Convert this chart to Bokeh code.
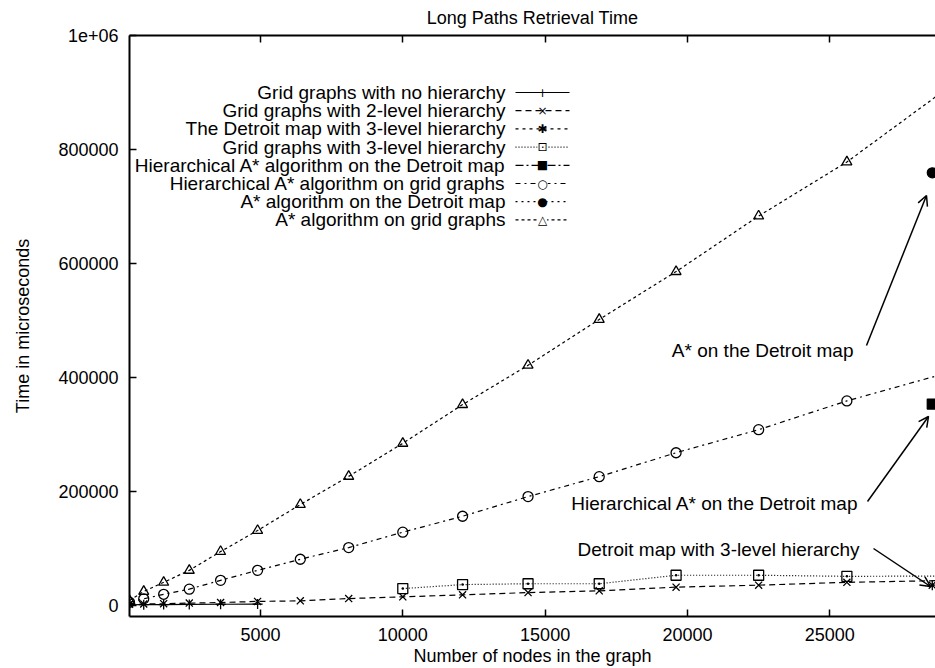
from bokeh.plotting import figure
from bokeh.models import Range1d, LinearAxis, FixedTicker, Label, Arrow, OpenHead
from bokeh.embed import file_html
from bokeh.resources import INLINE

# ---------------- data ----------------
grid_nodes = [400, 900, 1600, 2500, 3600, 4900, 6400, 8100, 10000, 12100,
              14400, 16900, 19600, 22500, 25600, 28900]
no_hier_nodes = [400, 900, 1600, 2500, 3600, 4900]
no_hier_time = [600, 800, 1000, 1200, 1500, 1800]
two_level_time = [1500, 2000, 2500, 3500, 4500, 6500, 7500, 11500, 14500, 18000,
                  22000, 25000, 31500, 35000, 40000, 43000]
three_level_nodes = [10000, 12100, 14400, 16900, 19600, 22500, 25600, 28900]
three_level_time = [29000, 36000, 37500, 37500, 52400, 52400, 50500, 51000]
hier_grid_time = [5000, 11000, 19000, 28000, 43500, 61000, 80500, 101000, 128000,
                  156000, 190500, 225500, 267500, 308000, 358500, 404500]
astar_grid_time = [8000, 24000, 40000, 61000, 94000, 131000, 176500, 226000, 284000,
                   352000, 421000, 501500, 585500, 683000, 778000, 899000]
detroit_nodes = [28600]
detroit_3level_time = [35000]
hier_detroit_time = [353000]
astar_detroit_time = [759000]

x_ticks = [5000, 10000, 15000, 20000, 25000]
y_ticks = [0, 200000, 400000, 600000, 800000, 1000000]
y_tick_labels = ["0", "200000", "400000", "600000", "800000", "1e+06"]

legend_labels = [
    "Grid graphs with no hierarchy",
    "Grid graphs with 2-level hierarchy",
    "The Detroit map with 3-level hierarchy",
    "Grid graphs with 3-level hierarchy",
    "Hierarchical A* algorithm on the Detroit map",
    "Hierarchical A* algorithm on grid graphs",
    "A* algorithm on the Detroit map",
    "A* algorithm on grid graphs",
]

FONT = "Liberation Sans"
FS = "18px"
FS_TXT = "19px"

p = figure(width=935, height=668, output_backend="svg", toolbar_location=None,
           x_range=Range1d(400, 28713), y_range=Range1d(-20000, 1000000),
           min_border_left=129, min_border_right=0, min_border_top=35,
           min_border_bottom=50,
           x_axis_label="Number of nodes in the graph",
           y_axis_label="Time in microseconds")
p.outline_line_color = None
p.grid.visible = False
p.background_fill_color = "white"
p.border_fill_color = "white"

p.title.text = "Long Paths Retrieval Time"
p.title.align = "center"
p.title.vertical_align = "top"
p.title.text_font = FONT
p.title.text_font_size = FS
p.title.text_font_style = "normal"
p.title.text_color = "black"
p.title.standoff = 12
p.title.offset = -4

for ax in [p.xaxis[0], p.yaxis[0]]:
    ax.axis_line_width = 2
    ax.axis_line_color = "black"
    ax.major_tick_in = 7
    ax.major_tick_out = 0
    ax.major_tick_line_width = 1.5
    ax.minor_tick_line_color = None
    ax.major_label_text_font = FONT
    ax.major_label_text_font_size = FS
    ax.major_label_text_color = "black"
    ax.axis_label_text_font = FONT
    ax.axis_label_text_font_size = FS
    ax.axis_label_text_font_style = "normal"
    ax.axis_label_text_color = "black"

p.xaxis[0].ticker = FixedTicker(ticks=x_ticks)
p.yaxis[0].ticker = FixedTicker(ticks=y_ticks)
p.yaxis[0].major_label_overrides = {t: l for t, l in zip(y_ticks, y_tick_labels)}
p.yaxis[0].major_label_standoff = 11
p.yaxis[0].axis_label_standoff = 22
p.xaxis[0].major_label_standoff = 11
p.xaxis[0].axis_label_standoff = 2

top = LinearAxis(ticker=FixedTicker(ticks=x_ticks),
                 major_label_overrides={t: "" for t in x_ticks},
                 axis_line_width=2, major_tick_in=7, major_tick_out=0,
                 major_tick_line_width=1.5, minor_tick_line_color=None,
                 major_label_standoff=0, major_label_text_font_size="1px")
p.add_layout(top, "above")

# ---------------- series ----------------
K = "black"
series = [
    (no_hier_nodes, no_hier_time, "solid", "cross", False),
    (grid_nodes, two_level_time, "6 4", "x", False),
    (detroit_nodes, detroit_3level_time, "3 4", "asterisk", False),
    (three_level_nodes, three_level_time, "1 2", "square_dot", False),
    (detroit_nodes, hier_detroit_time, "8 3 2 3", "square", True),
    (grid_nodes, hier_grid_time, "5 4 2 4", "circle", False),
    (detroit_nodes, astar_detroit_time, "2 4", "circle", True),
    (grid_nodes, astar_grid_time, "3 3", "triangle", False),
]
for xs, ys, dash, marker, filled in series:
    if len(xs) > 1:
        p.line(xs, ys, line_color=K, line_width=1.2, line_dash=dash)
    p.scatter(xs, ys, marker=marker, size=10, line_color=K, line_width=1.3,
              fill_color=K if filled else None)

# ---------------- legend (gnuplot style) ----------------
sym_text = ["+", "\u00d7", "\u2731", "\u22a1", "\u25a0", "\u25cb", "\u25cf", "\u25b3"]
for i, (lab, s) in enumerate(zip(legend_labels, sym_text)):
    yy = 618 - (94 + 18.2 * i)
    p.add_layout(Label(x=376, y=yy, x_units="screen", y_units="screen", text=lab,
                       text_align="right", text_baseline="middle",
                       text_font=FONT, text_font_size=FS_TXT, text_color=K))
    p.add_layout(Arrow(end=None, x_start=386, y_start=yy, x_end=440, y_end=yy,
                       start_units="screen", end_units="screen",
                       line_color=K, line_width=1.2, line_dash=series[i][2]))
    p.add_layout(Label(x=413, y=yy, x_units="screen", y_units="screen", text=s,
                       text_align="center", text_baseline="middle",
                       text_font="DejaVu Sans", text_font_size="12px", text_color=K,
                       background_fill_color="white" if i in (3, 5, 7) else None))

# ---------------- annotations ----------------
notes = [
    ("A* on the Detroit map", 724, 266, (737, 271), (797, 421)),
    ("Hierarchical A* on the Detroit map", 729, 113, (738, 115), (799, 200)),
    ("Detroit map with 3-level hierarchy", 730, 67, (744, 68), (801, 30)),
]
for txt, tx, ty, st, en in notes:
    p.add_layout(Label(x=tx, y=ty, x_units="screen", y_units="screen", text=txt,
                       text_align="right", text_baseline="middle",
                       text_font=FONT, text_font_size=FS_TXT, text_color=K))
    p.add_layout(Arrow(end=OpenHead(size=10, line_width=1.5, line_color=K),
                       x_start=st[0], y_start=st[1], x_end=en[0], y_end=en[1],
                       start_units="screen", end_units="screen",
                       line_color=K, line_width=1.5))

open("out.html", "w").write(file_html(p, INLINE))
